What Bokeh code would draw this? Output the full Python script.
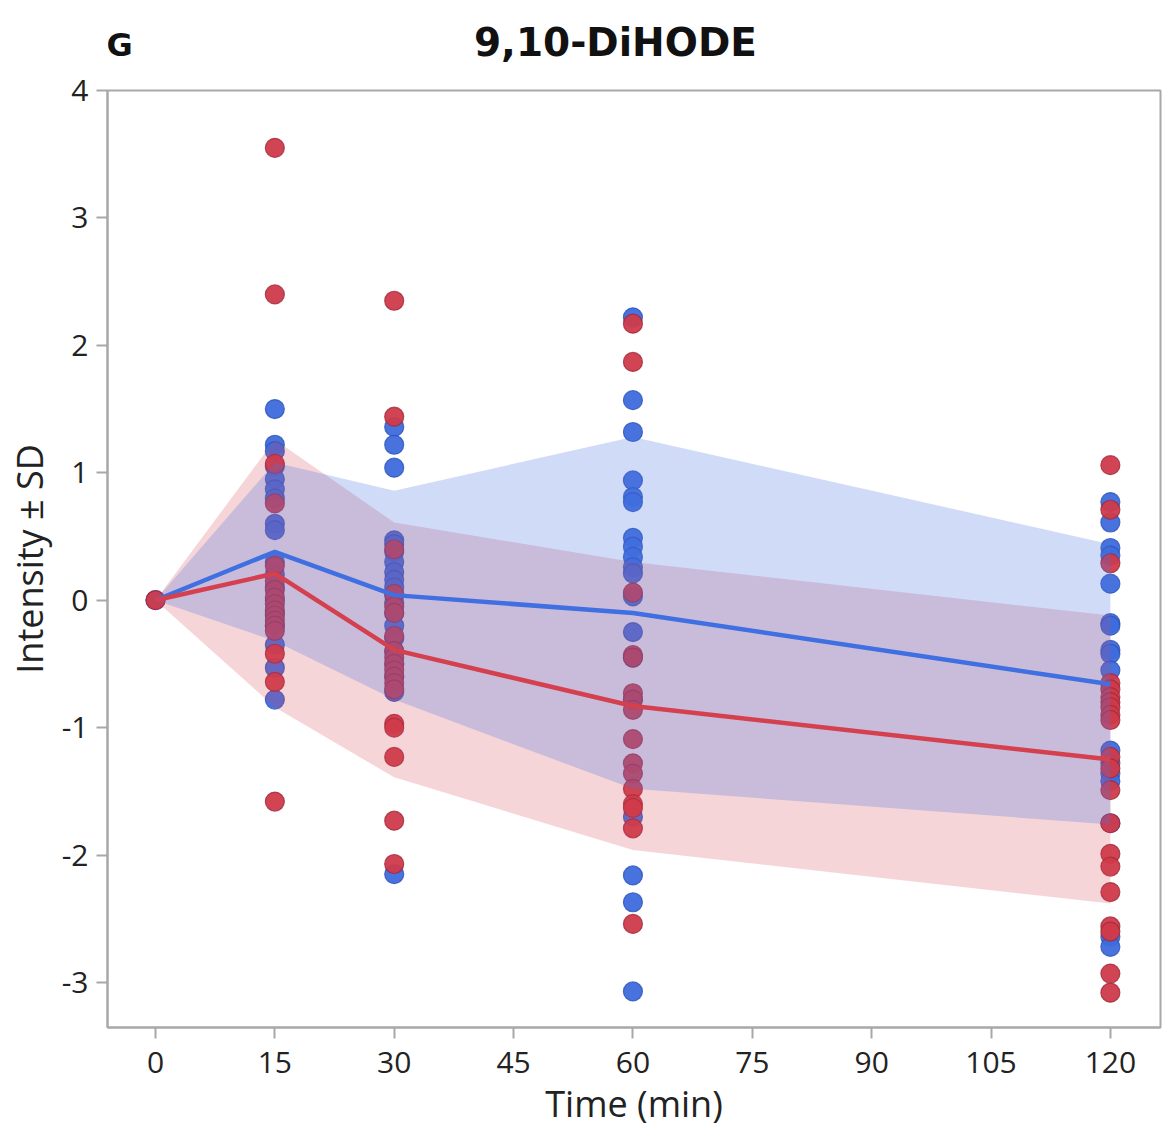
from bokeh.plotting import figure
from bokeh.models import Range1d, FixedTicker, Label
from bokeh.layouts import column
from bokeh.embed import file_html
from bokeh.resources import INLINE

# ---- data ----
times = [0, 15, 30, 60, 120]
blue_mean = [0, 0.38, 0.04, -0.10, -0.66]
blue_sd = [0, 0.70, 0.82, 1.38, 1.10]
red_mean = [0, 0.21, -0.39, -0.83, -1.25]
red_sd = [0, 1.05, 1.00, 1.13, 1.13]

blue_t0 = [0.0]
red_t0 = [0.0]
blue_t15 = [1.50, 1.22, 1.17, 1.05, 0.95, 0.87, 0.80, 0.60, 0.55, 0.30, 0.20, 0.10,
            0.00, -0.10, -0.20, -0.35, -0.53, -0.78]
red_t15 = [3.55, 2.40, 1.07, 0.76, 0.27, 0.15, 0.08, 0.02, -0.03, -0.08, -0.12, -0.16,
           -0.20, -0.24, -0.42, -0.64, -1.58]
blue_t30 = [1.36, 1.22, 1.04, 0.47, 0.44, 0.38, 0.30, 0.22, 0.16, 0.10, 0.04, -0.02,
            -0.10, -0.20, -0.30, -0.40, -0.50, -0.60, -0.72, -2.15]
red_t30 = [2.35, 1.44, 0.40, 0.05, -0.05, -0.10, -0.28, -0.40, -0.45, -0.50, -0.55,
           -0.60, -0.65, -0.70, -0.97, -1.00, -1.23, -1.73, -2.07]
blue_t60 = [2.22, 1.57, 1.32, 0.94, 0.81, 0.77, 0.49, 0.42, 0.34, 0.26, 0.21, 0.03,
            -0.25, -0.45, -0.78, -1.70, -2.16, -2.37, -3.07]
red_t60 = [2.17, 1.87, 0.06, -0.43, -0.45, -0.73, -0.78, -0.86, -1.09, -1.28, -1.36,
           -1.48, -1.60, -1.63, -1.79, -2.54]
blue_t120 = [0.77, 0.61, 0.41, 0.35, 0.13, -0.18, -0.20, -0.39, -0.42, -0.55, -1.18,
             -1.28, -1.36, -1.42, -1.75, -2.64, -2.72]
red_t120 = [1.06, 0.71, 0.29, -0.65, -0.70, -0.76, -0.80, -0.84, -0.90, -0.94, -1.23,
            -1.32, -1.49, -1.75, -1.99, -2.09, -2.29, -2.56, -2.60, -2.93, -3.08]

blue_points = {0: blue_t0, 15: blue_t15, 30: blue_t30, 60: blue_t60, 120: blue_t120}
red_points = {0: red_t0, 15: red_t15, 30: red_t30, 60: red_t60, 120: red_t120}

x_ticks = [0, 15, 30, 45, 60, 75, 90, 105, 120]
y_ticks = [-3, -2, -1, 0, 1, 2, 3, 4]
title_text = "9,10-DiHODE"
panel_letter = "G"
x_label = "Time (min)"
y_label = "Intensity ± SD"

# ---- styling ----
BLUE = "#3e6cdc"
BLUE_LINE = "#2d52b8"
RED = "#cf3a4a"
RED_LINE = "#a0283a"
BLUE_BAND = "#4a74e0"
RED_BAND = "#d84050"
TEXT = "#222222"
AXIS = "#a8a8a8"
FONT = "Open Sans"
W = 1163
HEADER_H = 68
TOTAL_H = 1131

x_rng = Range1d(-6.03, 126.3)

# header strip holding the panel letter and the title (shares the x range)
h = figure(width=W, height=HEADER_H, output_backend="svg", toolbar_location=None,
           x_range=x_rng, y_range=Range1d(HEADER_H, 0),
           x_axis_type=None, y_axis_type=None,
           min_border_left=107, min_border_right=3, min_border_top=0, min_border_bottom=0)
h.outline_line_color = None
h.xgrid.visible = False
h.ygrid.visible = False
h.add_layout(Label(x=57.8, y=42, text=title_text, text_align="center",
                   text_baseline="middle", text_font="DejaVu Sans",
                   text_font_style="bold", text_font_size="39px", text_color="#111111"))
h.add_layout(Label(x=-4.5, y=44, text=panel_letter, text_align="center",
                   text_baseline="middle", text_font="DejaVu Sans",
                   text_font_style="bold", text_font_size="32px", text_color="#111111"))

p = figure(width=W, height=TOTAL_H - HEADER_H, output_backend="svg", toolbar_location=None,
           x_range=x_rng, y_range=Range1d(-3.353, 4.0),
           min_border_left=107, min_border_right=3, min_border_top=90 - HEADER_H,
           min_border_bottom=104)
p.background_fill_color = "white"
p.border_fill_color = "white"
p.outline_line_color = AXIS
p.outline_line_width = 2
p.xgrid.visible = False
p.ygrid.visible = False

def flatten(d):
    xs, ys = [], []
    for t in times:
        for v in d[t]:
            xs.append(t)
            ys.append(v)
    return xs, ys

bx, by = flatten(blue_points)
rx, ry = flatten(red_points)
p.scatter(bx, by, size=19, fill_color=BLUE, line_color=BLUE_LINE, line_width=1.2,
          fill_alpha=0.95, line_alpha=0.8)
p.scatter(rx, ry, size=19, fill_color=RED, line_color=RED_LINE, line_width=1.2,
          fill_alpha=0.95, line_alpha=0.8)

red_lo = [m - s for m, s in zip(red_mean, red_sd)]
red_hi = [m + s for m, s in zip(red_mean, red_sd)]
blue_lo = [m - s for m, s in zip(blue_mean, blue_sd)]
blue_hi = [m + s for m, s in zip(blue_mean, blue_sd)]
p.varea(x=times, y1=red_lo, y2=red_hi, fill_color=RED_BAND, fill_alpha=0.22)
p.varea(x=times, y1=blue_lo, y2=blue_hi, fill_color=BLUE_BAND, fill_alpha=0.26)

p.line(times, blue_mean, line_color="#3f6fe0", line_width=4.5)
p.line(times, red_mean, line_color="#d5404f", line_width=4.5)

for ax in (p.xaxis, p.yaxis):
    ax.axis_line_color = AXIS
    ax.axis_line_width = 2
    ax.major_tick_line_color = AXIS
    ax.major_tick_line_width = 2
    ax.major_tick_out = 11
    ax.major_tick_in = 0
    ax.minor_tick_out = 0
    ax.minor_tick_in = 0
    ax.major_label_text_font = FONT
    ax.major_label_text_font_size = "30px"
    ax.major_label_text_color = TEXT
    ax.axis_label_text_font = FONT
    ax.axis_label_text_font_size = "36px"
    ax.axis_label_text_font_style = "normal"
    ax.axis_label_text_color = TEXT

p.xaxis.ticker = FixedTicker(ticks=x_ticks)
p.yaxis.ticker = FixedTicker(ticks=y_ticks)
p.yaxis.major_label_overrides = {t: str(t) for t in y_ticks}
p.xaxis.axis_label = x_label
p.yaxis.axis_label = y_label
p.xaxis.major_label_standoff = 13
p.yaxis.major_label_standoff = 8
p.xaxis.axis_label_standoff = 3
p.yaxis.axis_label_standoff = 5

open("out.html", "w").write(file_html(column(h, p, spacing=0), INLINE))
